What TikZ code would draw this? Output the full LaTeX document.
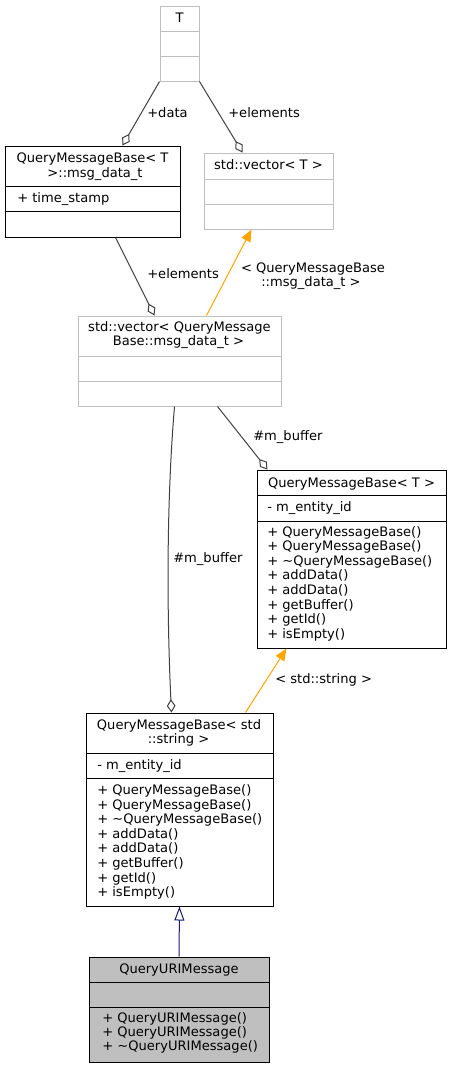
\documentclass[tikz,border=0pt]{standalone}
\usepackage{fontspec}
\setmainfont{DejaVu Sans}
\usetikzlibrary{arrows.meta,fit}
\definecolor{boxgray}{HTML}{BFBFBF}
\definecolor{edgegray}{HTML}{404040}
\definecolor{inhorange}{HTML}{FFA500}
\definecolor{inhnavy}{HTML}{191970}
\tikzset{
  txt/.style={inner sep=0pt, anchor=base west, font=\fontsize{9.8}{11}\selectfont},
  ctxt/.style={inner sep=0pt, anchor=base, font=\fontsize{9.8}{11}\selectfont},
  graybox/.style={draw=boxgray, line width=0.75pt},
  blackbox/.style={draw=black, line width=0.75pt},
  curbox/.style={draw=black, fill=boxgray, line width=0.75pt},
  assoc/.style={draw=edgegray, line width=0.75pt, -{Diamond[open, length=10pt, width=6.5pt]}},
  tmpl/.style={draw=inhorange, line width=0.75pt, -{Triangle[length=9pt, width=7.5pt, fill=inhorange]}},
  inh/.style={draw=inhnavy, line width=0.75pt, -{Triangle[open, length=10.5pt, width=7.5pt]}},
}
\newcommand\umlbox[7]{%
  \node[#6, fit={(#2,#3)(#4,#5)}, inner sep=0pt] (#1) {};
  \foreach \yy in {#7} {\draw[#6, fill=none] (#2,\yy) -- (#4,\yy);}
}
\begin{document}
\begin{tikzpicture}[x=0.75pt, y=-0.75pt]
\useasboundingbox (0,0) rectangle (451,1068);

% boxes
\umlbox{T}{160}{6}{199}{81}{graybox}{31.5,56.5}
\umlbox{md}{5}{146}{180}{237}{blackbox}{186,211}
\umlbox{vT}{204}{153}{333}{229}{graybox}{179,204}
\umlbox{vm}{78}{316}{281}{406}{graybox}{356,381}
\umlbox{qT}{257}{470}{446}{648}{blackbox}{495,521}
\umlbox{qS}{86}{713}{273}{906}{blackbox}{753,778}
\umlbox{qU}{89}{957}{269}{1062}{curbox}{982,1007}

% texts
\node[ctxt] (tT) at (179.5,22) {T};
\node[ctxt] (tmd1) at (92.5,162.5) {QueryMessageBase< T};
\node[ctxt] (tmd2) at (95,177.5) {>::msg\_data\_t};
\node[txt] (amd1) at (17,202) {+ time\_stamp};
\node[ctxt] (tvT) at (268.5,169) {std::vector< T >};
\node[ctxt] (tvm1) at (179.5,331.5) {std::vector< QueryMessage};
\node[ctxt] (tvm2) at (178.5,345.5) {Base::msg\_data\_t >};

\node[ctxt] (tqT) at (351.5,487) {QueryMessageBase< T >};
\node[txt] (aqT) at (267,511) {- m\_entity\_id};
\node[txt] (mqT1) at (267,536) {+ QueryMessageBase()};
\node[txt] (mqT2) at (267,550.6) {+ QueryMessageBase()};
\node[txt] (mqT3) at (267,565.2) {+ \textasciitilde QueryMessageBase()};
\node[txt] (mqT4) at (267,579.8) {+ addData()};
\node[txt] (mqT5) at (267,594.4) {+ addData()};
\node[txt] (mqT6) at (267,609) {+ getBuffer()};
\node[txt] (mqT7) at (267,623.6) {+ getId()};
\node[txt] (mqT8) at (267,638.2) {+ isEmpty()};

\node[ctxt] (tqS1) at (179,729.5) {QueryMessageBase< std};
\node[ctxt] (tqS2) at (178.5,743) {::string >};
\node[txt] (aqS) at (97,769) {- m\_entity\_id};
\node[txt] (mqS1) at (97,794.5) {+ QueryMessageBase()};
\node[txt] (mqS2) at (97,809.1) {+ QueryMessageBase()};
\node[txt] (mqS3) at (97,823.7) {+ \textasciitilde QueryMessageBase()};
\node[txt] (mqS4) at (97,838.3) {+ addData()};
\node[txt] (mqS5) at (97,852.9) {+ addData()};
\node[txt] (mqS6) at (97,867.5) {+ getBuffer()};
\node[txt] (mqS7) at (97,882.1) {+ getId()};
\node[txt] (mqS8) at (97,896.7) {+ isEmpty()};

\node[ctxt] (tqU) at (179,973.5) {QueryURIMessage};
\node[txt] (mqU1) at (102,1022.5) {+ QueryURIMessage()};
\node[txt] (mqU2) at (102,1036.7) {+ QueryURIMessage()};
\node[txt] (mqU3) at (102,1050.9) {+ \textasciitilde QueryURIMessage()};

% connectors
\draw[assoc] (T.south west) -- ([xshift=88.5pt]md.north west);
\draw[assoc] (T.south east) -- ([xshift=29.25pt]vT.north west);
\draw[assoc] ([xshift=83.25pt]md.south west) -- ([xshift=57.75pt]vm.north west);
\draw[tmpl] ([xshift=96.75pt]vm.north west) -- ([xshift=36pt]vT.south west);
\draw[assoc] ([xshift=105pt]vm.south west) -- ([xshift=8.25pt]qT.north west);
\draw[assoc] ([xshift=72.75pt]vm.south west) .. controls (165,520) and (168,640) .. ([xshift=64.5pt]qS.north west);
\draw[tmpl] ([xshift=120pt]qS.north west) -- ([xshift=22.5pt]qT.south west);
\draw[inh] (qU.north) -- (qS.south);

% connector labels
\node[txt] (ldata) at (147,117) {+data};
\node[txt] (lel1) at (228,117) {+elements};
\node[txt] (lel2) at (147,278) {+elements};
\node[ctxt] (lt1) at (313,272) {< QueryMessageBase};
\node[ctxt] (lt2) at (311,286.5) {::msg\_data\_t >};
\node[txt] (lmb1) at (253,440) {\#m\_buffer};
\node[txt] (lmb2) at (173,562) {\#m\_buffer};
\node[txt] (lstr) at (275,683) {< std::string >};
\end{tikzpicture}
\end{document}
